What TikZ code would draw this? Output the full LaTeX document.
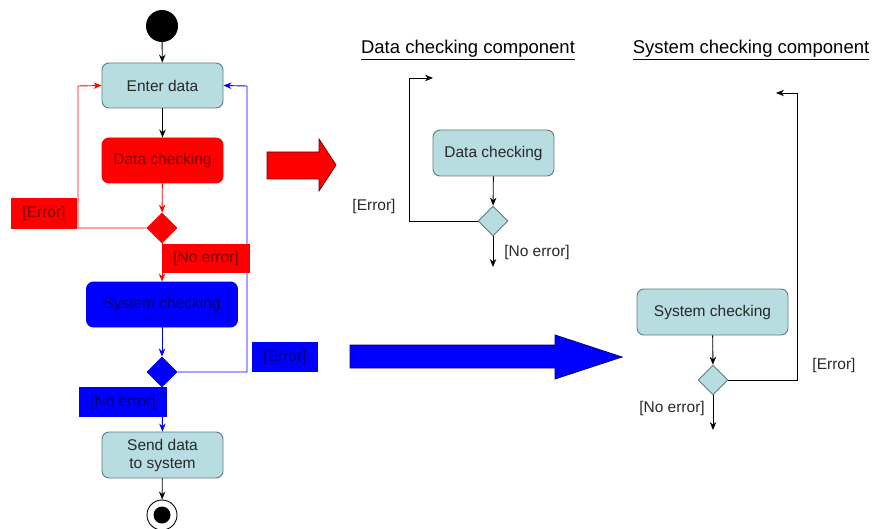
\documentclass[tikz,border=0pt]{standalone}
\usepackage{fontspec}
\setmainfont{Liberation Sans}
\usetikzlibrary{arrows.meta,shapes.geometric}

\definecolor{boxfill}{RGB}{183,221,225}
\definecolor{boxline}{RGB}{95,125,128}
\definecolor{txt}{RGB}{40,40,40}
\definecolor{redtxt}{RGB}{120,0,0}
\definecolor{bluetxt}{RGB}{0,0,110}
\definecolor{redrim}{RGB}{110,0,0}
\definecolor{bluerim}{RGB}{0,0,120}

\tikzset{
  every node/.style={font=\fontsize{15.5}{18}\selectfont, text=txt},
  activity/.style={draw=boxline, fill=boxfill, rounded corners=7pt, line width=0.9pt,
    minimum width=121pt, minimum height=45pt, inner sep=2pt, align=center},
  redact/.style={activity, draw=red, fill=red, text=redtxt},
  blueact/.style={activity, draw=blue, fill=blue, text=bluetxt},
  decision/.style={diamond, draw=boxline, fill=boxfill, line width=0.9pt,
    minimum width=30pt, minimum height=30pt, inner sep=0pt},
  reddec/.style={decision, draw=red, fill=red},
  bluedec/.style={decision, draw=blue, fill=blue},
  redtag/.style={fill=red, text=redtxt, inner sep=0pt},
  bluetag/.style={fill=blue, text=bluetxt, inner sep=0pt},
  flow/.style={line width=0.9pt, -{Stealth[length=8pt,width=6.5pt]}},
  title/.style={font=\fontsize{18.5}{22}\selectfont, text=black},
  bigarrow/.style={line width=0.8pt, line join=miter}
}

\begin{document}
\begin{tikzpicture}[x=1pt,y=-1pt]
\useasboundingbox (0,0) rectangle (874,529);

% ---------- main activity flow ----------
\node[circle, fill=black, minimum size=32pt, inner sep=0pt] (start) at (162,26) {};
\node[activity] (enter) at (162.5,85.5) {Enter data};
\node[redact] (dcheck) at (162.5,160.5) {Data checking};
\node[reddec] (d1) at (162,228) {};
\node[blueact, minimum width=151pt] (scheck) at (162,304.5) {System checking};
\node[bluedec] (d2) at (162,372) {};
\node[activity, minimum height=46pt] (send) at (162.5,455) {Send data\\to system};
\node[circle, draw=black, fill=white, line width=0.9pt, minimum size=30pt, inner sep=0pt] (stop) at (162,515) {};
\node[circle, fill=black, minimum size=17pt, inner sep=0pt] (stopdot) at (stop) {};

\coordinate (redturn) at (78,86);
\coordinate (blueturn) at (247,86);

\draw[flow, black] (start) -- (enter);
\draw[flow, black] (enter) -- (dcheck);
\draw[flow, red] (dcheck) -- (d1);
\draw[flow, red] (d1.west) -| (redturn) -- (enter.west);
\draw[flow, red] (d1.south) -- (scheck.north);
\draw[flow, blue] (scheck) -- (d2);
\draw[flow, blue] (d2.east) -| (blueturn) -- (enter.east);
\draw[flow, blue] (d2.south) -- (send.north);
\draw[flow, black] (send) -- (stop);

% guard tags
\node[redtag, minimum width=66pt, minimum height=31pt] (errR) at (44,213.5) {[Error]};
\node[redtag, minimum width=88pt, minimum height=29pt] (noerrR) at (206,258.5) {[No error]};
\node[bluetag, minimum width=66pt, minimum height=30pt] (errB) at (285,357) {[Error]};
\node[bluetag, minimum width=88pt, minimum height=30pt] (noerrB) at (123,402) {[No error]};

% ---------- block arrows ----------
\filldraw[bigarrow, fill=red, draw=redrim]
  (267,152) -- (319,152) -- (319,139) -- (336,165) -- (319,191) -- (319,179) -- (267,179) -- cycle;
\filldraw[bigarrow, fill=blue, draw=bluerim]
  (350,345) -- (555,345) -- (555,335) -- (622,357) -- (555,379) -- (555,368) -- (350,368) -- cycle;

% ---------- data checking component ----------
\node[title] (t1) at (468,50) {\underline{Data checking component}};
\node[activity, minimum height=46pt] (dc2) at (493.5,153) {Data checking};
\node[decision] (d3) at (493,221) {};
\coordinate (e1) at (433,78);
\coordinate (e1c) at (409,78);
\coordinate (n1) at (493,267);
\draw[flow, black] (dc2) -- (d3);
\draw[flow, black] (d3.west) -| (e1c) -- (e1);
\draw[flow, black] (d3.south) -- (n1);
\node (l1) at (374,206) {[Error]};
\node (l2) at (537,252) {[No error]};

% ---------- system checking component ----------
\node[title] (t2) at (751,50) {\underline{System checking component}};
\node[activity, minimum width=151pt, minimum height=46pt] (sc2) at (712.5,312) {System checking};
\node[decision] (d4) at (713,380) {};
\coordinate (e2) at (776,93);
\coordinate (e2c) at (797,93);
\coordinate (n2) at (713,430);
\draw[flow, black] (sc2) -- (d4);
\draw[flow, black] (d4.east) -| (e2c) -- (e2);
\draw[flow, black] (d4.south) -- (n2);
\node (l3) at (834,365) {[Error]};
\node (l4) at (672,408) {[No error]};
\end{tikzpicture}
\end{document}
